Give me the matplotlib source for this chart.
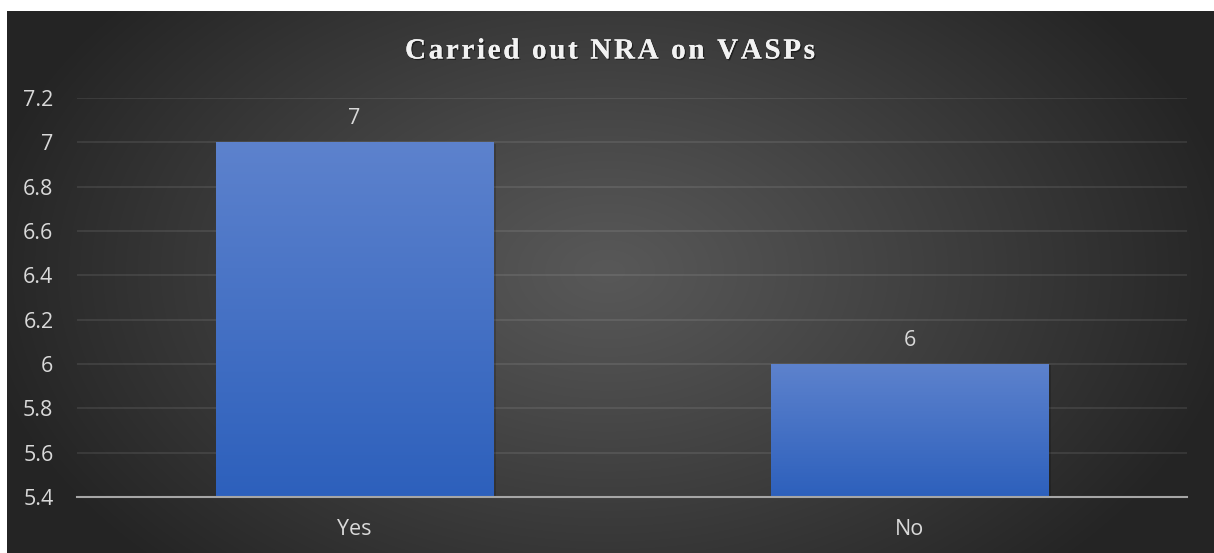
import numpy as np
import matplotlib
matplotlib.use("Agg")
import matplotlib.pyplot as plt
import matplotlib.patheffects as pe
from matplotlib.font_manager import FontProperties, findfont, get_font
from matplotlib.colors import LinearSegmentedColormap

# ---- data ----
categories = ["Yes", "No"]
values = [7, 6]
y_ticks = [5.4, 5.6, 5.8, 6.0, 6.2, 6.4, 6.6, 6.8, 7.0, 7.2]
y_tick_labels = ["5.4", "5.6", "5.8", "6", "6.2", "6.4", "6.6", "6.8", "7", "7.2"]
title = "Carried out NRA on VASPs"

W, H = 1214, 553
DPI = 100
fig = plt.figure(figsize=(W / DPI, H / DPI), dpi=DPI, facecolor="white")

# ---- background (radial gradient) ----
bx0, by0 = 7, 11  # white margin left/top
bg_ax = fig.add_axes([bx0 / W, 0, 1 - bx0 / W, (H - by0) / H], zorder=0)
bg_ax.set_axis_off()
bw, bh = W - bx0, H - by0
xx, yy = np.meshgrid(np.arange(bw), np.arange(bh))
cx, cy = 600, 260
r = np.sqrt(((xx - cx) / 640.0) ** 2 + ((yy - cy) / 420.0) ** 2)
r = np.clip(r, 0, 1)
c_center = np.array([0x58, 0x58, 0x58]) / 255.0
c_edge = np.array([0x24, 0x24, 0x24]) / 255.0
t = r ** 1.1
img = c_center[None, None, :] * (1 - t[..., None]) + c_edge[None, None, :] * t[..., None]
bg_ax.imshow(img, extent=[0, 1, 0, 1], aspect="auto", interpolation="bilinear")
bg_ax.set_xlim(0, 1)
bg_ax.set_ylim(0, 1)

# ---- main axes ----
left, right = 77, 1187
top, bottom = 98, 497
ax = fig.add_axes([left / W, (H - bottom) / H, (right - left) / W, (bottom - top) / H], zorder=1)
ax.set_facecolor("none")

x = np.arange(len(categories))
bars = ax.bar(x, values, width=0.5, color="#4472c4", linewidth=0, zorder=2)
ax.set_xlim(-0.5, len(categories) - 0.5)
ax.set_ylim(y_ticks[0], y_ticks[-1])

# gradient fill for bars
grad_cmap = LinearSegmentedColormap.from_list("bar", ["#2d60bc", "#5d82cd"])
grad = np.linspace(0, 1, 256).reshape(-1, 1)
for b in bars:
    x0 = b.get_x()
    x1 = x0 + b.get_width()
    y1 = b.get_height()
    y0 = ax.get_ylim()[0]
    im = ax.imshow(grad, cmap=grad_cmap, origin="lower", extent=[x0, x1, y0, y1],
                   aspect="auto", zorder=2.5, interpolation="bilinear")
    im.set_clip_path(b)
    b.set_path_effects([pe.withSimplePatchShadow(offset=(2.0, -1.0), shadow_rgbFace="black", alpha=0.18),
                        pe.Normal()])
ax.set_xlim(-0.5, len(categories) - 0.5)
ax.set_ylim(y_ticks[0], y_ticks[-1])

# grid
ax.set_yticks(y_ticks)
ax.set_yticklabels(y_tick_labels)
ax.set_xticks(x)
ax.set_xticklabels(categories)
ax.yaxis.grid(True, color="white", alpha=0.11, linewidth=1.1, zorder=1)
ax.set_axisbelow(True)
for s in ["top", "right", "left"]:
    ax.spines[s].set_visible(False)
ax.spines["bottom"].set_color("#a6a6a6")
ax.spines["bottom"].set_linewidth(1.5)
ax.spines["bottom"].set_zorder(3)
ax.tick_params(axis="both", length=0, colors="#d9d9d9", labelsize=15.5)
ax.tick_params(axis="y", pad=17)
ax.tick_params(axis="x", pad=16)
for lbl in ax.get_xticklabels() + ax.get_yticklabels():
    lbl.set_fontfamily("Open Sans")
    lbl.set_color("#d9d9d9")

# value labels
for xi, v in zip(x, values):
    ax.annotate(f"{v:g}", xy=(xi, v), xytext=(0, 9.5), textcoords="offset points",
                ha="center", va="bottom", fontsize=15.5, color="#d9d9d9",
                fontfamily="Open Sans", zorder=4)

# ---- title with letter spacing ----
fp = FontProperties(family="Liberation Serif", weight="bold", size=21)
font = get_font(findfont(fp))
font.set_size(21, DPI)
advs = []
for ch in title:
    g = font.load_char(ord(ch))
    advs.append(g.linearHoriAdvance / 65536.0)
target_w = 410.0
spacing = (target_w - sum(advs)) / (len(title) - 1)
total = sum(advs) + spacing * (len(title) - 1)
tx = 610 - total / 2.0
ty = 51
for ch, a in zip(title, advs):
    if ch != " ":
        fig.text(tx / W, 1 - ty / H, ch, fontproperties=fp, color="#f2f2f2",
                 ha="left", va="center", zorder=5,
                 path_effects=[pe.withSimplePatchShadow(offset=(1.0, -1.0), shadow_rgbFace="black", alpha=0.45),
                               pe.Normal()])
    tx += a + spacing

fig.savefig("out.png", dpi=DPI, facecolor="white")
